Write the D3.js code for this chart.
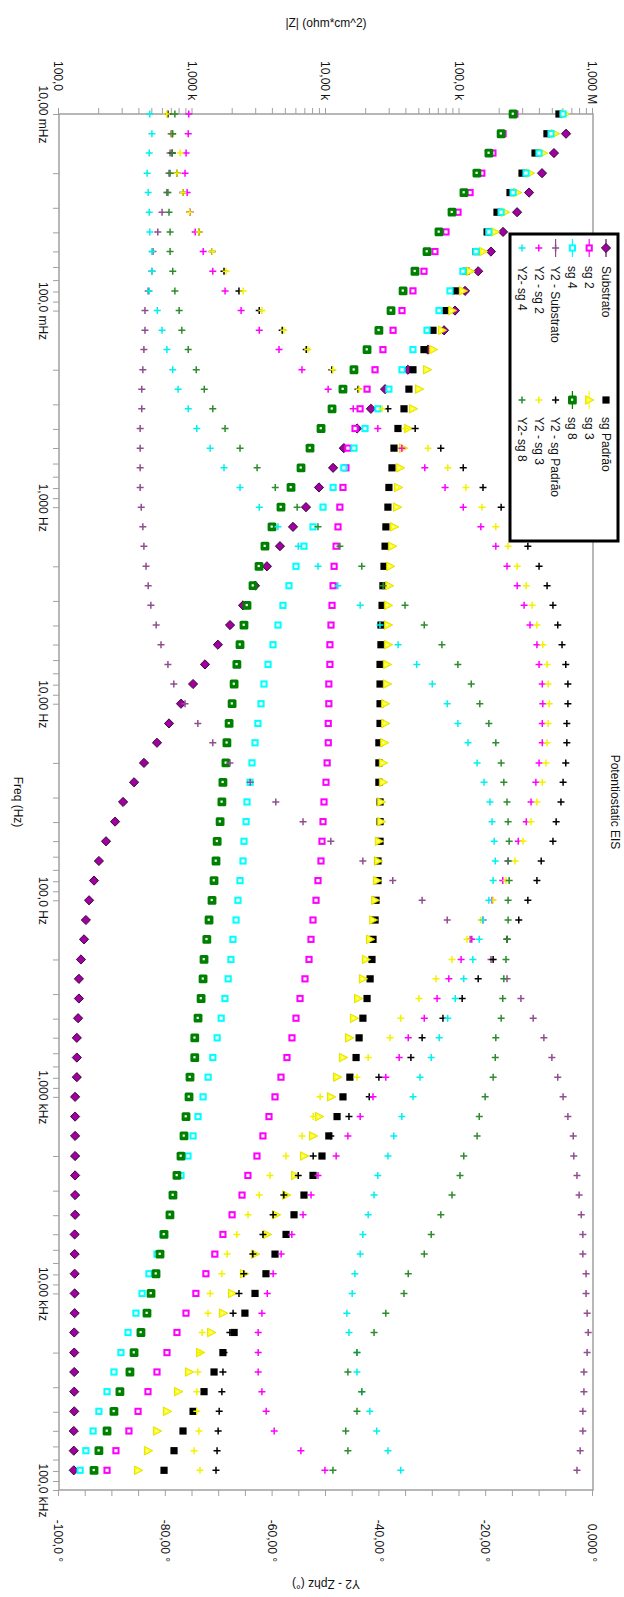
<!DOCTYPE html>
<html><head><meta charset="utf-8">
<script src="https://cdn.jsdelivr.net/npm/d3@7"></script>
<style>
body{margin:0;background:#fff}
svg{display:block}
text{font-family:"Liberation Sans",Arial,sans-serif}
</style>
</head><body>
<svg id="chart" width="624" height="1597"></svg>
<script>
// ---------------- DATA ----------------
const freq = [
 0.01,0.0126,0.0158,0.02,0.0251,0.0316,0.0398,0.0501,0.0631,0.0794,
 0.1,0.126,0.158,0.2,0.251,0.316,0.398,0.501,0.631,0.794,
 1,1.26,1.58,2,2.51,3.16,3.98,5.01,6.31,7.94,
 10,12.6,15.8,20,25.1,31.6,39.8,50.1,63.1,79.4,
 100,126,158,200,251,316,398,501,631,794,
 1000,1260,1580,2000,2510,3160,3980,5010,6310,7940,
 10000,12600,15800,20000,25100,31600,39800,50100,63100,79400];

const zSubstrato = [null,628000,510000,415000,332000,270000,212000,172000,138000,110000,
 92500,76600,58000,41000,27700,21700,17100,13600,11300,8860,
 7080,5660,4520,3610,2940,2390,1910,1550,1240,1010,
 820,667,542,433,365,302,263,225,199,183,
 168,159,154,146,141,141,139,136,136,136,
 132,132,132,132,132,132,132,131,131,131,
 131,131,130,130,130,130,130,129,129,129];
const zPadrao = [556000,452000,368000,294000,239000,191000,161000,133000,112000,94100,
 79200,63300,54200,44800,41800,38400,34600,32300,31200,29600,
 29100,28100,27700,27200,26700,26300,25800,25800,25400,25400,
 25400,25400,24900,24900,24900,25400,25400,25400,24500,24500,
 23700,23300,22500,22100,21400,20300,18900,17700,16800,15100,
 13400,12100,10500,9330,7990,6840,5760,5020,4150,3550,
 2940,2470,2050,1690,1450,1220,1010,849,727,612];
const zSg2 = [260000,212000,178000,147000,120000,97500,79200,65500,54200,44800,
 37100,31800,26700,23300,20300,18000,16500,14600,14100,13400,
 12700,12300,11900,11500,11300,11100,10900,10700,10700,10500,
 10500,10400,10400,10200,10000,9660,9500,9330,9170,8710,
 8420,7990,7720,7460,6960,6390,5960,5560,5100,4600,
 4150,3740,3370,3040,2600,2350,1980,1690,1470,1260,
 1060,894,765,644,542,464,391,334,267,229];
const zSg3 = [617000,519000,422000,337000,270000,219000,184000,150000,120000,106000,
 87900,73900,63300,57100,49700,44800,41100,37700,35800,34600,
 34000,32300,31200,30200,29600,29100,29100,29100,28600,28600,
 27700,27700,27200,26700,26700,25800,25800,24900,24500,24100,
 23300,22500,21400,19900,18900,17400,16200,14900,13400,12100,
 10900,8860,7990,6840,5860,5020,4220,3610,2940,2430,
 1980,1690,1380,1140,941,779,644,542,464,391];
const zSg4 = [596000,485000,394000,315000,252000,205000,166000,133000,106000,84900,
 70200,57100,44800,37100,29600,24500,19600,16200,13600,11300,
 9500,7990,6840,5960,5280,4760,4370,4010,3680,3430,
 3260,3090,2940,2790,2700,2560,2520,2430,2390,2270,
 2190,2120,2010,1940,1850,1750,1640,1530,1420,1310,
 1200,1100,1010,925,820,714,678,601,542,472,
 419,377,329,291,258,229,199,180,159,144];
const zSg8 = [252000,205000,166000,135000,108000,87900,70200,57100,46400,37800,
 30700,24900,20300,16200,13400,11100,9180,7590,6500,5470,
 4600,3940,3490,3150,2840,2560,2430,2270,2150,2050,
 1980,1880,1810,1780,1690,1660,1610,1530,1500,1450,
 1400,1330,1280,1220,1200,1160,1100,1040,1040,958,
 942,894,864,820,765,714,678,612,571,533,
 489,456,411,365,340,286,258,229,199,183];

const pSubstrato = [null,-79.0,-79.2,-79.4,-79.8,-80.7,-81.5,-82.4,-82.6,-83.3,
 -83.9,-83.9,-84.1,-84.3,-84.5,-84.5,-84.8,-84.8,-84.8,-84.8,
 -84.6,-84.3,-84.1,-83.7,-83.3,-82.8,-81.8,-80.9,-79.6,-78.5,
 -76.4,-74.0,-71.2,-68.0,-64.2,-59.4,-54.3,-49.1,-43.1,-37.5,
 -32.0,-27.3,-23.0,-19.1,-16.1,-13.5,-11.2,-9.2,-7.7,-6.6,
 -5.6,-4.7,-3.7,-3.6,-3.0,-2.6,-2.2,-1.9,-1.9,-1.3,
 -1.3,-1.1,-0.9,-1.1,-1.7,-1.7,-1.9,-1.9,-2.4,-3.0];
const pPadrao = [-79.6,-78.8,-78.8,-77.9,-76.8,-75.5,-73.8,-71.3,-69.1,-66.3,
 -62.5,-58.2,-53.7,-48.9,-44.0,-38.4,-33.3,-28.5,-24.3,-20.6,
 -17.2,-14.6,-12.2,-10.1,-8.6,-7.5,-6.6,-5.8,-5.1,-4.7,
 -4.7,-4.9,-4.9,-5.1,-5.6,-6.0,-6.9,-7.5,-9.7,-10.5,
 -12.2,-13.9,-16.1,-18.7,-21.5,-24.5,-28.1,-32.0,-34.1,-40.1,
 -41.9,-45.7,-49.1,-52.4,-55.2,-57.9,-59.9,-61.8,-63.7,-65.4,
 -66.3,-67.4,-68.0,-69.1,-69.3,-69.5,-70.0,-70.2,-70.4,-70.6];
const pSg2 = [-75.7,-75.8,-76.2,-76.4,-76.0,-75.5,-74.5,-73.0,-71.2,-68.9,
 -65.9,-62.5,-58.8,-54.5,-49.6,-44.9,-40.3,-35.8,-31.5,-27.7,
 -24.3,-21.0,-18.2,-16.1,-14.2,-12.9,-11.8,-10.5,-10.1,-9.5,
 -9.4,-9.5,-9.5,-10.1,-10.7,-11.6,-12.5,-14.0,-15.9,-16.9,
 -18.9,-20.6,-22.7,-24.7,-27.0,-29.2,-31.6,-34.6,-36.3,-38.8,
 -41.2,-43.6,-45.9,-48.1,-51.5,-52.8,-54.3,-56.4,-58.4,-59.9,
 -61.0,-62.0,-62.7,-62.7,-62.7,-62.0,-61.2,-59.7,-54.7,-50.2];
const pSg3 = [-79.8,-78.8,-77.3,-77.9,-76.8,-75.5,-73.8,-71.3,-68.7,-65.5,
 -62.0,-57.9,-53.4,-48.7,-43.8,-39.5,-35.2,-30.9,-27.2,-23.8,
 -20.8,-18.2,-15.9,-14.2,-12.5,-11.4,-10.5,-9.4,-8.6,-8.4,
 -8.2,-8.4,-8.6,-8.8,-9.5,-10.5,-11.6,-13.1,-14.6,-16.3,
 -18.7,-21.0,-23.6,-26.4,-29.4,-32.6,-36.0,-38.0,-42.1,-44.2,
 -51.1,-52.4,-54.5,-57.5,-60.5,-62.5,-64.6,-66.7,-68.5,-69.5,
 -71.7,-72.1,-73.2,-73.6,-74.0,-74.2,-74.2,-73.8,-74.7,-73.6];
const pSg4 = [-83.0,-82.6,-83.1,-83.5,-83.3,-83.1,-83.0,-82.6,-82.6,-83.1,
 -81.6,-80.7,-79.8,-78.7,-77.7,-75.8,-74.2,-71.7,-69.1,-66.1,
 -62.5,-59.0,-55.2,-51.5,-47.8,-43.6,-39.9,-36.5,-33.0,-30.1,
 -27.3,-25.3,-23.4,-21.7,-20.4,-19.3,-18.9,-18.5,-18.3,-18.7,
 -19.5,-20.6,-21.3,-22.5,-24.2,-25.8,-27.2,-28.8,-30.3,-32.4,
 -33.7,-35.8,-37.3,-38.4,-40.3,-41.0,-42.1,-43.1,-43.6,-44.6,
 -45.1,-46.1,-45.7,-44.2,-44.2,-43.3,-41.8,-40.5,-38.4,-36.0];
const pSg8 = [-78.3,-78.7,-78.8,-79.2,-79.6,-79.4,-79.2,-79.2,-78.7,-78.3,
 -77.5,-77.0,-75.8,-74.3,-72.8,-71.2,-68.9,-66.1,-62.9,-59.5,
 -55.4,-51.5,-47.4,-43.3,-39.3,-35.2,-31.6,-28.3,-25.3,-22.8,
 -21.2,-19.5,-18.2,-17.2,-16.7,-16.1,-15.9,-15.7,-15.9,-15.7,
 -15.9,-15.9,-16.1,-16.3,-16.7,-16.9,-17.2,-18.2,-18.3,-18.7,
 -20.2,-21.3,-21.7,-24.2,-24.9,-26.4,-28.5,-30.3,-31.6,-34.6,
 -35.4,-38.8,-41.0,-44.2,-45.9,-43.3,-44.2,-46.3,-45.9,-48.7];

const zTickValues = [100,1000,10000,100000,1000000];
const zTickLabels = ["100,0","1,000 k","10,00 k","100,0 k","1,000 M"];
const fTickValues = [0.01,0.1,1,10,100,1000,10000,100000];
const fTickLabels = ["10,00 mHz","100,0 mHz","1,000 Hz","10,00 Hz","100,0 Hz","1,000 kHz","10,00 kHz","100,0 kHz"];
const pTickValues = [-100,-80,-60,-40,-20,0];
const pTickLabels = ["-100,0 °","-80,00 °","-60,00 °","-40,00 °","-20,00 °","0,000 °"];

const seriesNames = ["Substrato","sg Padrão","sg 2","sg 3","sg 4","sg 8",
  "Y2 - Substrato","Y2 - sg Padrão","Y2 - sg 2","Y2 - sg 3","Y2- sg 4","Y2- sg 8"];

// ---------------- STYLE / LAYOUT ----------------
const PURPLE = "#a000a0", PURPLE_P = "#8f4f8f";
const series = [
  {name:seriesNames[0], vals:zSubstrato, axis:"z", type:"diamond", color:PURPLE, line:"#4a104a"},
  {name:seriesNames[1], vals:zPadrao, axis:"z", type:"square", color:"#000000", line:null},
  {name:seriesNames[2], vals:zSg2, axis:"z", type:"hollow", color:"#ff00ff", line:"#ff00ff"},
  {name:seriesNames[3], vals:zSg3, axis:"z", type:"triangle", color:"#ffff00", line:"#ffff00"},
  {name:seriesNames[4], vals:zSg4, axis:"z", type:"hollow", color:"#00ffff", line:"#00ffff"},
  {name:seriesNames[5], vals:zSg8, axis:"z", type:"green", color:"#008000", line:"#008000"},
  {name:seriesNames[6], vals:pSubstrato, axis:"p", type:"plus", color:PURPLE_P, line:PURPLE_P},
  {name:seriesNames[7], vals:pPadrao, axis:"p", type:"plus", color:"#000000", line:null},
  {name:seriesNames[8], vals:pSg2, axis:"p", type:"plus", color:"#ff00ff", line:null},
  {name:seriesNames[9], vals:pSg3, axis:"p", type:"plus", color:"#f2f200", line:null},
  {name:seriesNames[10], vals:pSg4, axis:"p", type:"plus", color:"#00f0f0", line:null},
  {name:seriesNames[11], vals:pSg8, axis:"p", type:"plus", color:"#2e8b2e", line:null}
];

const svg = d3.select("#chart");
// original (landscape) chart drawn, then rotated 90° clockwise
const g = svg.append("g").attr("transform","translate(624,0) rotate(90)");
const X0 = 114, X1 = 1490, Y0 = 31, Y1 = 565;
const x = d3.scaleLog().domain([0.01,1e5]).range([X0,X1]);
const yZ = d3.scaleLog().domain([100,1e6]).range([Y1,Y0]);
const yP = d3.scaleLinear().domain([-100,0]).range([Y1,Y0]);
const AX = "#a0a0a0", TXT = "#111";

g.append("rect").attr("x",X0).attr("y",Y0).attr("width",X1-X0).attr("height",Y1-Y0)
  .attr("fill","#fff").attr("stroke",AX).attr("stroke-width",1.5);

function near(a,b){return Math.abs(Math.log10(Math.abs(a))-Math.log10(Math.abs(b)))<1e-6;}
function styleAxis(sel){
  sel.select(".domain").remove();
  sel.attr("color",AX).attr("font-size",12).attr("font-family",'"Liberation Sans",Arial,sans-serif');
  sel.selectAll("text").attr("fill",TXT);
}
// |Z| axis (left in original -> top on screen)
const axZ = d3.axisLeft(yZ).tickValues(yZ.ticks()).tickSize(6).tickSizeOuter(0)
  .tickFormat(d=>{const i=zTickValues.findIndex(v=>near(v,d));return i>=0?zTickLabels[i]:"";});
const gz = g.append("g").attr("transform",`translate(${X0},0)`).call(axZ);
styleAxis(gz);
gz.selectAll("text").attr("x",-53).attr("text-anchor","start").attr("dy","0.35em");

// Frequency axis (bottom in original -> left on screen)
const axF = d3.axisBottom(x).tickValues(x.ticks()).tickSize(6).tickSizeOuter(0)
  .tickFormat(d=>{const i=fTickValues.findIndex(v=>near(v,d));return i>=0?fTickLabels[i]:"";});
const gf = g.append("g").attr("transform",`translate(0,${Y1})`).call(axF);
styleAxis(gf);
gf.selectAll("text").attr("y",20).attr("dy",null);

// Phase axis (right in original -> bottom on screen)
const axP = d3.axisRight(yP).tickValues(d3.range(-100,0.1,5)).tickSize(6).tickSizeOuter(0)
  .tickFormat(d=>{const i=pTickValues.indexOf(Math.round(d));return (i>=0 && Math.abs(d-Math.round(d))<1e-9)?pTickLabels[i]:"";});
const gp = g.append("g").attr("transform",`translate(${X1},0)`).call(axP);
styleAxis(gp);
gp.selectAll("text").attr("x",72).attr("text-anchor","end").attr("dy","0.35em");

// titles
const midY = (Y0+Y1)/2, midX = (X0+X1)/2;
g.append("text").attr("x",27).attr("y",midY).attr("transform",`rotate(-90,27,${midY})`)
  .attr("text-anchor","middle").attr("font-size",12).attr("fill",TXT).text("|Z| (ohm*cm^2)");
g.append("text").attr("x",1580).attr("y",midY).attr("transform",`rotate(90,1580,${midY})`)
  .attr("text-anchor","middle").attr("font-size",12).attr("fill",TXT).text("Y2 - Zphz (°)");
g.append("text").attr("x",midX).attr("y",610).attr("text-anchor","middle")
  .attr("font-size",12).attr("fill",TXT).text("Freq (Hz)");
g.append("text").attr("x",midX).attr("y",13).attr("text-anchor","middle")
  .attr("font-size",12).attr("fill",TXT).text("Potentiostatic EIS");

// markers
function drawMarker(sel, s){
  switch(s.type){
    case "diamond":
      sel.append("path").attr("d","M0,-4.6L4.6,0L0,4.6L-4.6,0Z").attr("fill",s.color)
        .attr("stroke","#2a002a").attr("stroke-width",0.9); break;
    case "square":
      sel.append("rect").attr("x",-3.6).attr("y",-3.6).attr("width",7.2).attr("height",7.2).attr("fill",s.color); break;
    case "hollow":
      sel.append("rect").attr("x",-2.6).attr("y",-2.6).attr("width",5.2).attr("height",5.2)
        .attr("fill","#fff").attr("stroke",s.color).attr("stroke-width",2); break;
    case "green":
      sel.append("rect").attr("x",-4.4).attr("y",-4.4).attr("width",8.8).attr("height",8.8).attr("rx",1.5).attr("fill",s.color);
      sel.append("rect").attr("x",-1.4).attr("y",-0.8).attr("width",2.2).attr("height",2.2).attr("fill","#fff"); break;
    case "triangle":
      sel.append("path").attr("d","M0,-4.8L4.3,3.6L-4.3,3.6Z").attr("fill",s.color)
        .attr("stroke","#d8d800").attr("stroke-width",0.8);
      sel.append("rect").attr("x",-0.9).attr("y",-0.2).attr("width",1.8).attr("height",1.8).attr("fill","#fff"); break;
    case "plus":
      sel.append("path").attr("d","M-3.5,0H3.5M0,-3.5V3.5").attr("stroke",s.color).attr("stroke-width",1.5).attr("fill","none"); break;
  }
}

series.forEach(s=>{
  const yScale = s.axis==="z" ? yZ : yP;
  const pts = freq.map((f,i)=>({f, v:s.vals[i]})).filter(d=>d.v!==null);
  g.append("g").selectAll("g").data(pts).join("g")
    .attr("transform",d=>`translate(${x(d.f)},${yScale(d.v)})`)
    .each(function(){ drawMarker(d3.select(this), s); });
});

// legend
const lg = g.append("g");
lg.append("rect").attr("x",234).attr("y",6).attr("width",307).attr("height",108)
  .attr("fill","#fff").attr("stroke","#000").attr("stroke-width",3);
series.forEach((s,k)=>{
  const col = k%2, row = Math.floor(k/2);
  const mx = col===0 ? 248 : 400, tx = col===0 ? 266 : 417;
  const yy = 18 + row*16.8;
  const e = lg.append("g");
  if (s.line) e.append("line").attr("x1",mx-9).attr("x2",mx+9).attr("y1",yy).attr("y2",yy)
      .attr("stroke",s.line).attr("stroke-width",1.2);
  drawMarker(e.append("g").attr("transform",`translate(${mx},${yy})`), s);
  e.append("text").attr("x",tx).attr("y",yy).attr("dy","0.35em").attr("font-size",12)
    .attr("fill",TXT).text(s.name);
});
</script>
</body></html>
